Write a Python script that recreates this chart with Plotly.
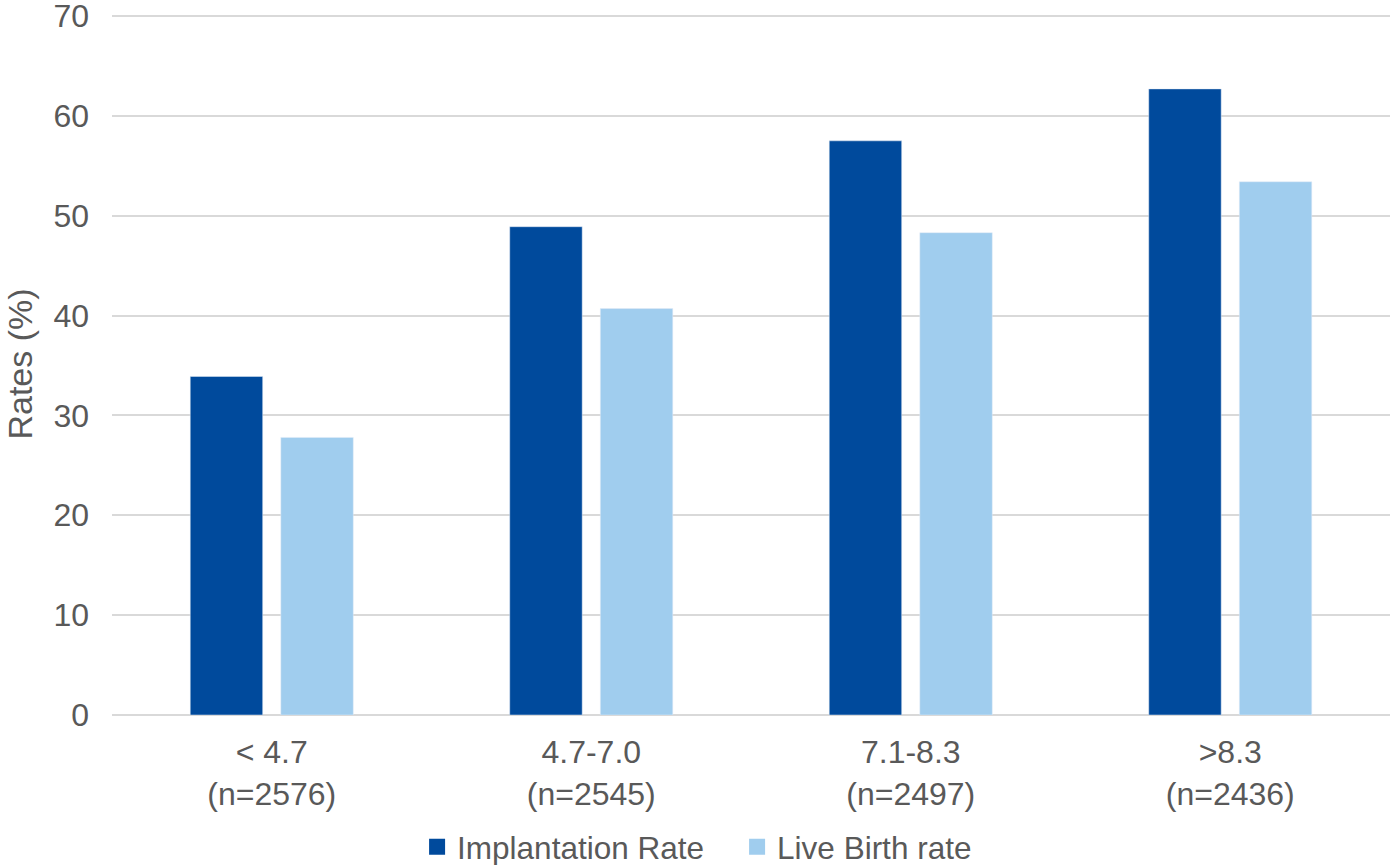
import plotly.graph_objects as go

categories = ["< 4.7<br>(n=2576)", "4.7-7.0<br>(n=2545)", "7.1-8.3<br>(n=2497)", ">8.3<br>(n=2436)"]
implantation_rate = [33.9, 48.9, 57.5, 62.7]
live_birth_rate = [27.8, 40.7, 48.3, 53.4]
y_ticks = [0, 10, 20, 30, 40, 50, 60, 70]
series_names = ["Implantation Rate", "Live Birth rate"]
series_colors = ["#004A9C", "#A0CDEE"]

FONT = "Liberation Sans, Arial, sans-serif"
GREY = "#595959"

fig = go.Figure()
for name, vals, col in zip(series_names, [implantation_rate, live_birth_rate], series_colors):
    fig.add_trace(go.Bar(x=categories, y=vals, name=name, marker_color=col, showlegend=False))
# legend entries with larger square swatches
for name, col in zip(series_names, series_colors):
    fig.add_trace(go.Scatter(x=[None], y=[None], mode="markers", name=name,
                             marker=dict(symbol="square", size=17, color=col)))

fig.update_layout(
    width=1396, height=865,
    margin=dict(l=112, r=6, t=13, b=150, autoexpand=False),
    paper_bgcolor="white", plot_bgcolor="white",
    barmode="group", bargap=0.433, bargroupgap=0.2,
    font=dict(family=FONT, color=GREY, size=32),
    showlegend=True,
    legend=dict(orientation="h", xref="container", x=0.528, xanchor="center",
                yref="container", y=0.021, yanchor="middle",
                font=dict(size=31.5, color=GREY), itemwidth=30, tracegroupgap=0,
                entrywidth=275, entrywidthmode="pixels"),
    yaxis=dict(range=[0, 70.3], tickvals=y_ticks, showgrid=True, gridcolor="#D9D9D9",
               gridwidth=1.5, zeroline=True, zerolinecolor="#D9D9D9", zerolinewidth=2,
               ticklabelstandoff=22, automargin=False, ticklabeloverflow="allow",
               title=dict(text="Rates (%)", font=dict(size=34, color=GREY), standoff=10)),
    xaxis=dict(showgrid=False, showline=False, ticklabelstandoff=15, automargin=False,
               tickfont=dict(size=32, color=GREY)),
)

fig.write_html("out.html", config={"displayModeBar": False},
               post_script="document.body.style.margin='0';")
